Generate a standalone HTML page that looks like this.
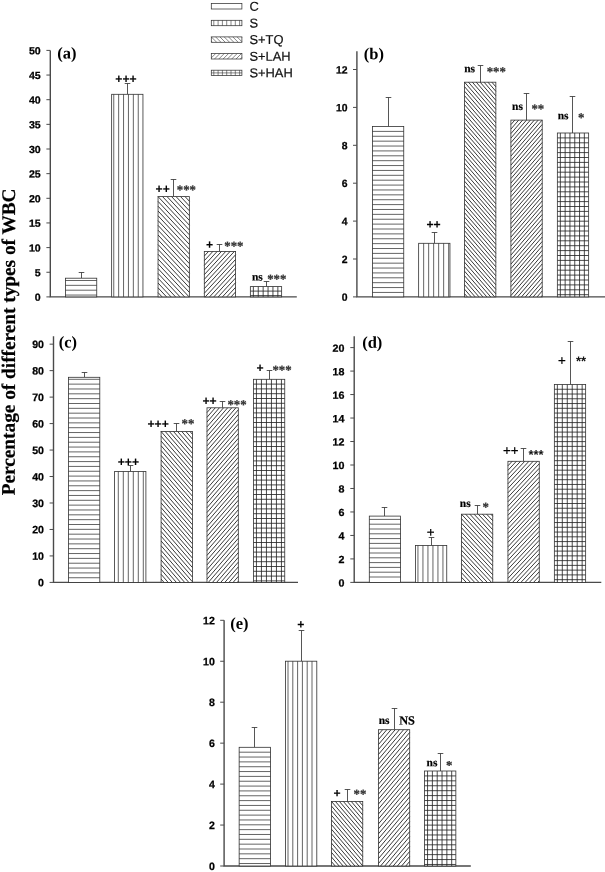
<!DOCTYPE html>
<html lang="en"><head><meta charset="utf-8"><title>Percentage of different types of WBC</title>
<style>html,body{margin:0;padding:0;background:#fff}body{width:605px;height:872px;overflow:hidden}svg{display:block;will-change:transform}text{text-rendering:geometricPrecision}.sb{font-family:"Liberation Sans",sans-serif;font-weight:bold}.sr{font-family:"Liberation Sans",sans-serif}.rb{font-family:"Liberation Serif",serif;font-weight:bold}</style>
</head><body>
<svg width="605" height="872" viewBox="0 0 605 872"><rect width="100%" height="100%" fill="#fff"/><path d="M50.3 50.4 V296.9 H296.8" fill="none" stroke="#4a4a4a" stroke-width="1.4"/>
<line x1="46.4" y1="296.9" x2="50.3" y2="296.9" stroke="#4a4a4a" stroke-width="1"/>
<text transform="translate(40.70 300.80) rotate(0.05) scale(1.03 1)" class="sb" font-size="10.3" text-anchor="end" fill="#000" stroke="#000" stroke-width="0.25">0</text>
<line x1="46.4" y1="272.25" x2="50.3" y2="272.25" stroke="#4a4a4a" stroke-width="1"/>
<text transform="translate(40.70 276.15) rotate(0.05) scale(1.03 1)" class="sb" font-size="10.3" text-anchor="end" fill="#000" stroke="#000" stroke-width="0.25">5</text>
<line x1="46.4" y1="247.59999999999997" x2="50.3" y2="247.59999999999997" stroke="#4a4a4a" stroke-width="1"/>
<text transform="translate(40.70 251.50) rotate(0.05) scale(1.03 1)" class="sb" font-size="10.3" text-anchor="end" fill="#000" stroke="#000" stroke-width="0.25">10</text>
<line x1="46.4" y1="222.95" x2="50.3" y2="222.95" stroke="#4a4a4a" stroke-width="1"/>
<text transform="translate(40.70 226.85) rotate(0.05) scale(1.03 1)" class="sb" font-size="10.3" text-anchor="end" fill="#000" stroke="#000" stroke-width="0.25">15</text>
<line x1="46.4" y1="198.29999999999998" x2="50.3" y2="198.29999999999998" stroke="#4a4a4a" stroke-width="1"/>
<text transform="translate(40.70 202.20) rotate(0.05) scale(1.03 1)" class="sb" font-size="10.3" text-anchor="end" fill="#000" stroke="#000" stroke-width="0.25">20</text>
<line x1="46.4" y1="173.64999999999998" x2="50.3" y2="173.64999999999998" stroke="#4a4a4a" stroke-width="1"/>
<text transform="translate(40.70 177.55) rotate(0.05) scale(1.03 1)" class="sb" font-size="10.3" text-anchor="end" fill="#000" stroke="#000" stroke-width="0.25">25</text>
<line x1="46.4" y1="149.0" x2="50.3" y2="149.0" stroke="#4a4a4a" stroke-width="1"/>
<text transform="translate(40.70 152.90) rotate(0.05) scale(1.03 1)" class="sb" font-size="10.3" text-anchor="end" fill="#000" stroke="#000" stroke-width="0.25">30</text>
<line x1="46.4" y1="124.35" x2="50.3" y2="124.35" stroke="#4a4a4a" stroke-width="1"/>
<text transform="translate(40.70 128.25) rotate(0.05) scale(1.03 1)" class="sb" font-size="10.3" text-anchor="end" fill="#000" stroke="#000" stroke-width="0.25">35</text>
<line x1="46.4" y1="99.69999999999999" x2="50.3" y2="99.69999999999999" stroke="#4a4a4a" stroke-width="1"/>
<text transform="translate(40.70 103.60) rotate(0.05) scale(1.03 1)" class="sb" font-size="10.3" text-anchor="end" fill="#000" stroke="#000" stroke-width="0.25">40</text>
<line x1="46.4" y1="75.04999999999998" x2="50.3" y2="75.04999999999998" stroke="#4a4a4a" stroke-width="1"/>
<text transform="translate(40.70 78.95) rotate(0.05) scale(1.03 1)" class="sb" font-size="10.3" text-anchor="end" fill="#000" stroke="#000" stroke-width="0.25">45</text>
<line x1="46.4" y1="50.39999999999998" x2="50.3" y2="50.39999999999998" stroke="#4a4a4a" stroke-width="1"/>
<text transform="translate(40.70 54.30) rotate(0.05) scale(1.03 1)" class="sb" font-size="10.3" text-anchor="end" fill="#000" stroke="#000" stroke-width="0.25">50</text>
<text transform="translate(57.30 58.50) rotate(0.05)" class="rb" font-size="16.5" text-anchor="start" fill="#000" >(a)</text>
<path d="M81.50 278.2 V272.5 M78.70 272.5 H84.30" fill="none" stroke="#383838" stroke-width="0.85"/>
<rect x="65.45" y="278.2" width="31.30" height="18.70" fill="#fff"/>
<path d="M65.45 280.50H96.75M65.45 285.35H96.75M65.45 290.20H96.75M65.45 295.05H96.75" fill="none" stroke="#222" stroke-width="0.7"/>
<rect x="65.45" y="278.2" width="31.30" height="18.70" fill="none" stroke="#303030" stroke-width="0.8"/>
<path d="M127.50 94.3 V83.5 M124.70 83.5 H130.30" fill="none" stroke="#383838" stroke-width="0.85"/>
<rect x="111.65" y="94.3" width="31.30" height="202.60" fill="#fff"/>
<path d="M113.75 94.30V296.90M118.65 94.30V296.90M123.55 94.30V296.90M128.45 94.30V296.90M133.35 94.30V296.90M138.25 94.30V296.90" fill="none" stroke="#222" stroke-width="0.7"/>
<rect x="111.65" y="94.3" width="31.30" height="202.60" fill="none" stroke="#303030" stroke-width="0.8"/>
<path d="M173.50 196.6 V179.5 M170.70 179.5 H176.30" fill="none" stroke="#383838" stroke-width="0.85"/>
<rect x="158.05" y="196.6" width="31.30" height="100.30" fill="#fff"/>
<path d="M158.05 292.60L162.08 296.90M158.05 287.80L166.58 296.90M158.05 283.00L171.08 296.90M158.05 278.20L175.58 296.90M158.05 273.40L180.08 296.90M158.05 268.60L184.58 296.90M158.05 263.80L189.08 296.90M158.05 259.00L189.35 292.39M158.05 254.20L189.35 287.59M158.05 249.40L189.35 282.79M158.05 244.60L189.35 277.99M158.05 239.80L189.35 273.19M158.05 235.00L189.35 268.39M158.05 230.20L189.35 263.59M158.05 225.40L189.35 258.79M158.05 220.60L189.35 253.99M158.05 215.80L189.35 249.19M158.05 211.00L189.35 244.39M158.05 206.20L189.35 239.59M158.05 201.40L189.35 234.79M158.05 196.60L189.35 229.99M162.55 196.60L189.35 225.19M167.05 196.60L189.35 220.39M171.55 196.60L189.35 215.59M176.05 196.60L189.35 210.79M180.55 196.60L189.35 205.99M185.05 196.60L189.35 201.19" fill="none" stroke="#222" stroke-width="0.9"/>
<rect x="158.05" y="196.6" width="31.30" height="100.30" fill="none" stroke="#303030" stroke-width="0.8"/>
<path d="M219.50 251.4 V244.5 M216.70 244.5 H222.30" fill="none" stroke="#383838" stroke-width="0.85"/>
<rect x="204.3" y="251.4" width="31.30" height="45.50" fill="#fff"/>
<path d="M208.60 251.40L204.30 256.05M212.90 251.40L204.30 260.70M217.20 251.40L204.30 265.35M221.50 251.40L204.30 270.00M225.80 251.40L204.30 274.65M230.10 251.40L204.30 279.30M234.40 251.40L204.30 283.95M235.60 254.75L204.30 288.60M235.60 259.40L204.30 293.25M235.60 264.05L205.22 296.90M235.60 268.70L209.52 296.90M235.60 273.35L213.82 296.90M235.60 278.00L218.12 296.90M235.60 282.65L222.42 296.90M235.60 287.30L226.72 296.90M235.60 291.95L231.02 296.90" fill="none" stroke="#222" stroke-width="0.9"/>
<rect x="204.3" y="251.4" width="31.30" height="45.50" fill="none" stroke="#303030" stroke-width="0.8"/>
<path d="M266.50 286.6 V281.5 M263.70 281.5 H269.30" fill="none" stroke="#383838" stroke-width="0.85"/>
<rect x="250.35" y="286.6" width="31.30" height="10.30" fill="#fff"/>
<path d="M250.35 291.10H281.65M250.35 295.60H281.65M253.35 286.60V296.90M258.25 286.60V296.90M263.15 286.60V296.90M268.05 286.60V296.90M272.95 286.60V296.90M277.85 286.60V296.90" fill="none" stroke="#222" stroke-width="0.82"/>
<rect x="250.35" y="286.6" width="31.30" height="10.30" fill="none" stroke="#303030" stroke-width="0.8"/>
<text transform="translate(126.00 83.12) rotate(0.05)" class="sb" font-size="12.2" text-anchor="middle" fill="#000" stroke="#000" stroke-width="0.08">+++</text>
<text transform="translate(162.70 193.12) rotate(0.05)" class="sb" font-size="12.2" text-anchor="middle" fill="#000" stroke="#000" stroke-width="0.08">++</text>
<text transform="translate(176.80 193.93) rotate(0.05)" class="rb" font-size="12.8" text-anchor="start" fill="#333" stroke="#333" stroke-width="0.25">***</text>
<text transform="translate(209.50 248.72) rotate(0.05)" class="sb" font-size="12.2" text-anchor="middle" fill="#000" stroke="#000" stroke-width="0.08">+</text>
<text transform="translate(224.30 250.23) rotate(0.05)" class="rb" font-size="12.8" text-anchor="start" fill="#333" stroke="#333" stroke-width="0.25">***</text>
<text transform="translate(251.90 280.60) rotate(0.05)" class="rb" font-size="11.5" text-anchor="start" fill="#000" stroke="#000" stroke-width="0.2">ns</text>
<text transform="translate(267.20 283.33) rotate(0.05)" class="rb" font-size="12.8" text-anchor="start" fill="#333" stroke="#333" stroke-width="0.25">***</text>
<path d="M356.9 51.2 V296.9 H605" fill="none" stroke="#4a4a4a" stroke-width="1.4"/>
<line x1="353.0" y1="296.9" x2="356.9" y2="296.9" stroke="#4a4a4a" stroke-width="1"/>
<text transform="translate(347.60 300.80) rotate(0.05) scale(0.99 1)" class="sb" font-size="10.5" text-anchor="end" fill="#000" stroke="#000" stroke-width="0.25">0</text>
<line x1="353.0" y1="259.0" x2="356.9" y2="259.0" stroke="#4a4a4a" stroke-width="1"/>
<text transform="translate(347.60 262.90) rotate(0.05) scale(0.99 1)" class="sb" font-size="10.5" text-anchor="end" fill="#000" stroke="#000" stroke-width="0.25">2</text>
<line x1="353.0" y1="221.09999999999997" x2="356.9" y2="221.09999999999997" stroke="#4a4a4a" stroke-width="1"/>
<text transform="translate(347.60 225.00) rotate(0.05) scale(0.99 1)" class="sb" font-size="10.5" text-anchor="end" fill="#000" stroke="#000" stroke-width="0.25">4</text>
<line x1="353.0" y1="183.2" x2="356.9" y2="183.2" stroke="#4a4a4a" stroke-width="1"/>
<text transform="translate(347.60 187.10) rotate(0.05) scale(0.99 1)" class="sb" font-size="10.5" text-anchor="end" fill="#000" stroke="#000" stroke-width="0.25">6</text>
<line x1="353.0" y1="145.29999999999998" x2="356.9" y2="145.29999999999998" stroke="#4a4a4a" stroke-width="1"/>
<text transform="translate(347.60 149.20) rotate(0.05) scale(0.99 1)" class="sb" font-size="10.5" text-anchor="end" fill="#000" stroke="#000" stroke-width="0.25">8</text>
<line x1="353.0" y1="107.39999999999998" x2="356.9" y2="107.39999999999998" stroke="#4a4a4a" stroke-width="1"/>
<text transform="translate(347.60 111.30) rotate(0.05) scale(0.99 1)" class="sb" font-size="10.5" text-anchor="end" fill="#000" stroke="#000" stroke-width="0.25">10</text>
<line x1="353.0" y1="69.5" x2="356.9" y2="69.5" stroke="#4a4a4a" stroke-width="1"/>
<text transform="translate(347.60 73.40) rotate(0.05) scale(0.99 1)" class="sb" font-size="10.5" text-anchor="end" fill="#000" stroke="#000" stroke-width="0.25">12</text>
<text transform="translate(363.80 59.30) rotate(0.05)" class="rb" font-size="16.5" text-anchor="start" fill="#000" >(b)</text>
<path d="M388.50 126.5 V97.5 M385.70 97.5 H391.30" fill="none" stroke="#383838" stroke-width="0.85"/>
<rect x="372.45" y="126.5" width="31.30" height="170.40" fill="#fff"/>
<path d="M372.45 131.40H403.75M372.45 136.28H403.75M372.45 141.16H403.75M372.45 146.04H403.75M372.45 150.92H403.75M372.45 155.80H403.75M372.45 160.68H403.75M372.45 165.56H403.75M372.45 170.44H403.75M372.45 175.32H403.75M372.45 180.20H403.75M372.45 185.08H403.75M372.45 189.96H403.75M372.45 194.84H403.75M372.45 199.72H403.75M372.45 204.60H403.75M372.45 209.48H403.75M372.45 214.36H403.75M372.45 219.24H403.75M372.45 224.12H403.75M372.45 229.00H403.75M372.45 233.88H403.75M372.45 238.76H403.75M372.45 243.64H403.75M372.45 248.52H403.75M372.45 253.40H403.75M372.45 258.28H403.75M372.45 263.16H403.75M372.45 268.04H403.75M372.45 272.92H403.75M372.45 277.80H403.75M372.45 282.68H403.75M372.45 287.56H403.75M372.45 292.44H403.75" fill="none" stroke="#222" stroke-width="0.7"/>
<rect x="372.45" y="126.5" width="31.30" height="170.40" fill="none" stroke="#303030" stroke-width="0.8"/>
<path d="M434.50 243.3 V232.5 M431.70 232.5 H437.30" fill="none" stroke="#383838" stroke-width="0.85"/>
<rect x="418.65" y="243.3" width="31.30" height="53.60" fill="#fff"/>
<path d="M423.65 243.30V296.90M428.65 243.30V296.90M433.65 243.30V296.90M438.65 243.30V296.90M443.65 243.30V296.90M448.65 243.30V296.90" fill="none" stroke="#222" stroke-width="0.7"/>
<rect x="418.65" y="243.3" width="31.30" height="53.60" fill="none" stroke="#303030" stroke-width="0.8"/>
<path d="M480.50 82.2 V65.5 M477.70 65.5 H483.30" fill="none" stroke="#383838" stroke-width="0.85"/>
<rect x="464.55" y="82.2" width="31.30" height="214.70" fill="#fff"/>
<path d="M464.55 293.70L467.32 296.90M464.55 289.20L471.22 296.90M464.55 284.70L475.12 296.90M464.55 280.20L479.02 296.90M464.55 275.70L482.92 296.90M464.55 271.20L486.82 296.90M464.55 266.70L490.72 296.90M464.55 262.20L494.62 296.90M464.55 257.70L495.85 293.82M464.55 253.20L495.85 289.32M464.55 248.70L495.85 284.82M464.55 244.20L495.85 280.32M464.55 239.70L495.85 275.82M464.55 235.20L495.85 271.32M464.55 230.70L495.85 266.82M464.55 226.20L495.85 262.32M464.55 221.70L495.85 257.82M464.55 217.20L495.85 253.32M464.55 212.70L495.85 248.82M464.55 208.20L495.85 244.32M464.55 203.70L495.85 239.82M464.55 199.20L495.85 235.32M464.55 194.70L495.85 230.82M464.55 190.20L495.85 226.32M464.55 185.70L495.85 221.82M464.55 181.20L495.85 217.32M464.55 176.70L495.85 212.82M464.55 172.20L495.85 208.32M464.55 167.70L495.85 203.82M464.55 163.20L495.85 199.32M464.55 158.70L495.85 194.82M464.55 154.20L495.85 190.32M464.55 149.70L495.85 185.82M464.55 145.20L495.85 181.32M464.55 140.70L495.85 176.82M464.55 136.20L495.85 172.32M464.55 131.70L495.85 167.82M464.55 127.20L495.85 163.32M464.55 122.70L495.85 158.82M464.55 118.20L495.85 154.32M464.55 113.70L495.85 149.82M464.55 109.20L495.85 145.32M464.55 104.70L495.85 140.82M464.55 100.20L495.85 136.32M464.55 95.70L495.85 131.82M464.55 91.20L495.85 127.32M464.55 86.70L495.85 122.82M464.55 82.20L495.85 118.32M468.45 82.20L495.85 113.82M472.35 82.20L495.85 109.32M476.25 82.20L495.85 104.82M480.15 82.20L495.85 100.32M484.05 82.20L495.85 95.82M487.95 82.20L495.85 91.32M491.85 82.20L495.85 86.82" fill="none" stroke="#222" stroke-width="0.9"/>
<rect x="464.55" y="82.2" width="31.30" height="214.70" fill="none" stroke="#303030" stroke-width="0.8"/>
<path d="M526.50 120.1 V93.5 M523.70 93.5 H529.30" fill="none" stroke="#383838" stroke-width="0.85"/>
<rect x="510.9" y="120.1" width="31.30" height="176.80" fill="#fff"/>
<path d="M514.80 120.10L510.90 124.60M518.70 120.10L510.90 129.10M522.60 120.10L510.90 133.60M526.50 120.10L510.90 138.10M530.40 120.10L510.90 142.60M534.30 120.10L510.90 147.10M538.20 120.10L510.90 151.60M542.10 120.10L510.90 156.10M542.20 124.48L510.90 160.60M542.20 128.98L510.90 165.10M542.20 133.48L510.90 169.60M542.20 137.98L510.90 174.10M542.20 142.48L510.90 178.60M542.20 146.98L510.90 183.10M542.20 151.48L510.90 187.60M542.20 155.98L510.90 192.10M542.20 160.48L510.90 196.60M542.20 164.98L510.90 201.10M542.20 169.48L510.90 205.60M542.20 173.98L510.90 210.10M542.20 178.48L510.90 214.60M542.20 182.98L510.90 219.10M542.20 187.48L510.90 223.60M542.20 191.98L510.90 228.10M542.20 196.48L510.90 232.60M542.20 200.98L510.90 237.10M542.20 205.48L510.90 241.60M542.20 209.98L510.90 246.10M542.20 214.48L510.90 250.60M542.20 218.98L510.90 255.10M542.20 223.48L510.90 259.60M542.20 227.98L510.90 264.10M542.20 232.48L510.90 268.60M542.20 236.98L510.90 273.10M542.20 241.48L510.90 277.60M542.20 245.98L510.90 282.10M542.20 250.48L510.90 286.60M542.20 254.98L510.90 291.10M542.20 259.48L510.90 295.60M542.20 263.98L513.67 296.90M542.20 268.48L517.57 296.90M542.20 272.98L521.47 296.90M542.20 277.48L525.37 296.90M542.20 281.98L529.27 296.90M542.20 286.48L533.17 296.90M542.20 290.98L537.07 296.90M542.20 295.48L540.97 296.90" fill="none" stroke="#222" stroke-width="0.9"/>
<rect x="510.9" y="120.1" width="31.30" height="176.80" fill="none" stroke="#303030" stroke-width="0.8"/>
<path d="M572.50 133.0 V96.5 M569.70 96.5 H575.30" fill="none" stroke="#383838" stroke-width="0.85"/>
<rect x="557.35" y="133.0" width="31.30" height="163.90" fill="#fff"/>
<path d="M557.35 137.90H588.65M557.35 142.80H588.65M557.35 147.70H588.65M557.35 152.60H588.65M557.35 157.50H588.65M557.35 162.40H588.65M557.35 167.30H588.65M557.35 172.20H588.65M557.35 177.10H588.65M557.35 182.00H588.65M557.35 186.90H588.65M557.35 191.80H588.65M557.35 196.70H588.65M557.35 201.60H588.65M557.35 206.50H588.65M557.35 211.40H588.65M557.35 216.30H588.65M557.35 221.20H588.65M557.35 226.10H588.65M557.35 231.00H588.65M557.35 235.90H588.65M557.35 240.80H588.65M557.35 245.70H588.65M557.35 250.60H588.65M557.35 255.50H588.65M557.35 260.40H588.65M557.35 265.30H588.65M557.35 270.20H588.65M557.35 275.10H588.65M557.35 280.00H588.65M557.35 284.90H588.65M557.35 289.80H588.65M557.35 294.70H588.65M560.35 133.00V296.90M565.15 133.00V296.90M569.95 133.00V296.90M574.75 133.00V296.90M579.55 133.00V296.90M584.35 133.00V296.90" fill="none" stroke="#222" stroke-width="0.82"/>
<rect x="557.35" y="133.0" width="31.30" height="163.90" fill="none" stroke="#303030" stroke-width="0.8"/>
<text transform="translate(433.60 228.62) rotate(0.05)" class="sb" font-size="12.2" text-anchor="middle" fill="#000" stroke="#000" stroke-width="0.08">++</text>
<text transform="translate(464.20 72.20) rotate(0.05)" class="rb" font-size="11.5" text-anchor="start" fill="#000" stroke="#000" stroke-width="0.2">ns</text>
<text transform="translate(486.70 75.73) rotate(0.05)" class="rb" font-size="12.8" text-anchor="start" fill="#333" stroke="#333" stroke-width="0.25">***</text>
<text transform="translate(512.00 109.90) rotate(0.05)" class="rb" font-size="11.5" text-anchor="start" fill="#000" stroke="#000" stroke-width="0.2">ns</text>
<text transform="translate(531.40 113.03) rotate(0.05)" class="rb" font-size="12.8" text-anchor="start" fill="#333" stroke="#333" stroke-width="0.25">**</text>
<text transform="translate(557.70 119.30) rotate(0.05)" class="rb" font-size="11.5" text-anchor="start" fill="#000" stroke="#000" stroke-width="0.2">ns</text>
<text transform="translate(578.00 121.63) rotate(0.05)" class="rb" font-size="12.8" text-anchor="start" fill="#333" stroke="#333" stroke-width="0.25">*</text>
<path d="M53.5 336.2 V582.4 H298" fill="none" stroke="#4a4a4a" stroke-width="1.4"/>
<line x1="49.6" y1="582.4" x2="53.5" y2="582.4" stroke="#4a4a4a" stroke-width="1"/>
<text transform="translate(44.00 586.30) rotate(0.05) scale(0.99 1)" class="sb" font-size="10.7" text-anchor="end" fill="#000" stroke="#000" stroke-width="0.25">0</text>
<line x1="49.6" y1="555.93" x2="53.5" y2="555.93" stroke="#4a4a4a" stroke-width="1"/>
<text transform="translate(44.00 559.83) rotate(0.05) scale(0.99 1)" class="sb" font-size="10.7" text-anchor="end" fill="#000" stroke="#000" stroke-width="0.25">10</text>
<line x1="49.6" y1="529.46" x2="53.5" y2="529.46" stroke="#4a4a4a" stroke-width="1"/>
<text transform="translate(44.00 533.36) rotate(0.05) scale(0.99 1)" class="sb" font-size="10.7" text-anchor="end" fill="#000" stroke="#000" stroke-width="0.25">20</text>
<line x1="49.6" y1="502.99" x2="53.5" y2="502.99" stroke="#4a4a4a" stroke-width="1"/>
<text transform="translate(44.00 506.89) rotate(0.05) scale(0.99 1)" class="sb" font-size="10.7" text-anchor="end" fill="#000" stroke="#000" stroke-width="0.25">30</text>
<line x1="49.6" y1="476.52" x2="53.5" y2="476.52" stroke="#4a4a4a" stroke-width="1"/>
<text transform="translate(44.00 480.42) rotate(0.05) scale(0.99 1)" class="sb" font-size="10.7" text-anchor="end" fill="#000" stroke="#000" stroke-width="0.25">40</text>
<line x1="49.6" y1="450.04999999999995" x2="53.5" y2="450.04999999999995" stroke="#4a4a4a" stroke-width="1"/>
<text transform="translate(44.00 453.95) rotate(0.05) scale(0.99 1)" class="sb" font-size="10.7" text-anchor="end" fill="#000" stroke="#000" stroke-width="0.25">50</text>
<line x1="49.6" y1="423.58" x2="53.5" y2="423.58" stroke="#4a4a4a" stroke-width="1"/>
<text transform="translate(44.00 427.48) rotate(0.05) scale(0.99 1)" class="sb" font-size="10.7" text-anchor="end" fill="#000" stroke="#000" stroke-width="0.25">60</text>
<line x1="49.6" y1="397.11" x2="53.5" y2="397.11" stroke="#4a4a4a" stroke-width="1"/>
<text transform="translate(44.00 401.01) rotate(0.05) scale(0.99 1)" class="sb" font-size="10.7" text-anchor="end" fill="#000" stroke="#000" stroke-width="0.25">70</text>
<line x1="49.6" y1="370.64" x2="53.5" y2="370.64" stroke="#4a4a4a" stroke-width="1"/>
<text transform="translate(44.00 374.54) rotate(0.05) scale(0.99 1)" class="sb" font-size="10.7" text-anchor="end" fill="#000" stroke="#000" stroke-width="0.25">80</text>
<line x1="49.6" y1="344.16999999999996" x2="53.5" y2="344.16999999999996" stroke="#4a4a4a" stroke-width="1"/>
<text transform="translate(44.00 348.07) rotate(0.05) scale(0.99 1)" class="sb" font-size="10.7" text-anchor="end" fill="#000" stroke="#000" stroke-width="0.25">90</text>
<text transform="translate(58.80 347.60) rotate(0.05)" class="rb" font-size="16.5" text-anchor="start" fill="#000" >(c)</text>
<path d="M84.50 377.3 V372.5 M81.70 372.5 H87.30" fill="none" stroke="#383838" stroke-width="0.85"/>
<rect x="68.5" y="377.3" width="31.30" height="205.10" fill="#fff"/>
<path d="M68.50 379.30H99.80M68.50 384.14H99.80M68.50 388.98H99.80M68.50 393.82H99.80M68.50 398.66H99.80M68.50 403.50H99.80M68.50 408.34H99.80M68.50 413.18H99.80M68.50 418.02H99.80M68.50 422.86H99.80M68.50 427.70H99.80M68.50 432.54H99.80M68.50 437.38H99.80M68.50 442.22H99.80M68.50 447.06H99.80M68.50 451.90H99.80M68.50 456.74H99.80M68.50 461.58H99.80M68.50 466.42H99.80M68.50 471.26H99.80M68.50 476.10H99.80M68.50 480.94H99.80M68.50 485.78H99.80M68.50 490.62H99.80M68.50 495.46H99.80M68.50 500.30H99.80M68.50 505.14H99.80M68.50 509.98H99.80M68.50 514.82H99.80M68.50 519.66H99.80M68.50 524.50H99.80M68.50 529.34H99.80M68.50 534.18H99.80M68.50 539.02H99.80M68.50 543.86H99.80M68.50 548.70H99.80M68.50 553.54H99.80M68.50 558.38H99.80M68.50 563.22H99.80M68.50 568.06H99.80M68.50 572.90H99.80M68.50 577.74H99.80" fill="none" stroke="#222" stroke-width="0.7"/>
<rect x="68.5" y="377.3" width="31.30" height="205.10" fill="none" stroke="#303030" stroke-width="0.8"/>
<path d="M130.50 471.5 V465.5 M127.70 465.5 H133.30" fill="none" stroke="#383838" stroke-width="0.85"/>
<rect x="114.6" y="471.5" width="31.30" height="110.90" fill="#fff"/>
<path d="M118.30 471.50V582.40M123.30 471.50V582.40M128.30 471.50V582.40M133.30 471.50V582.40M138.30 471.50V582.40M143.30 471.50V582.40" fill="none" stroke="#222" stroke-width="0.7"/>
<rect x="114.6" y="471.5" width="31.30" height="110.90" fill="none" stroke="#303030" stroke-width="0.8"/>
<path d="M176.50 431.5 V423.5 M173.70 423.5 H179.30" fill="none" stroke="#383838" stroke-width="0.85"/>
<rect x="161.1" y="431.5" width="31.30" height="150.90" fill="#fff"/>
<path d="M161.10 579.06L164.00 582.40M161.10 574.30L168.13 582.40M161.10 569.54L172.26 582.40M161.10 564.78L176.39 582.40M161.10 560.02L180.52 582.40M161.10 555.26L184.65 582.40M161.10 550.50L188.78 582.40M161.10 545.74L192.40 581.81M161.10 540.98L192.40 577.05M161.10 536.22L192.40 572.29M161.10 531.46L192.40 567.53M161.10 526.70L192.40 562.77M161.10 521.94L192.40 558.01M161.10 517.18L192.40 553.25M161.10 512.42L192.40 548.49M161.10 507.66L192.40 543.73M161.10 502.90L192.40 538.97M161.10 498.14L192.40 534.21M161.10 493.38L192.40 529.45M161.10 488.62L192.40 524.69M161.10 483.86L192.40 519.93M161.10 479.10L192.40 515.17M161.10 474.34L192.40 510.41M161.10 469.58L192.40 505.65M161.10 464.82L192.40 500.89M161.10 460.06L192.40 496.13M161.10 455.30L192.40 491.37M161.10 450.54L192.40 486.61M161.10 445.78L192.40 481.85M161.10 441.02L192.40 477.09M161.10 436.26L192.40 472.33M161.10 431.50L192.40 467.57M165.23 431.50L192.40 462.81M169.36 431.50L192.40 458.05M173.49 431.50L192.40 453.29M177.62 431.50L192.40 448.53M181.75 431.50L192.40 443.77M185.88 431.50L192.40 439.01M190.01 431.50L192.40 434.25" fill="none" stroke="#222" stroke-width="0.9"/>
<rect x="161.1" y="431.5" width="31.30" height="150.90" fill="none" stroke="#303030" stroke-width="0.8"/>
<path d="M222.50 407.8 V401.5 M219.70 401.5 H225.30" fill="none" stroke="#383838" stroke-width="0.85"/>
<rect x="207.0" y="407.8" width="31.30" height="174.60" fill="#fff"/>
<path d="M211.13 407.80L207.00 412.56M215.26 407.80L207.00 417.32M219.39 407.80L207.00 422.08M223.52 407.80L207.00 426.84M227.65 407.80L207.00 431.60M231.78 407.80L207.00 436.36M235.91 407.80L207.00 441.12M238.30 409.81L207.00 445.88M238.30 414.57L207.00 450.64M238.30 419.33L207.00 455.40M238.30 424.09L207.00 460.16M238.30 428.85L207.00 464.92M238.30 433.61L207.00 469.68M238.30 438.37L207.00 474.44M238.30 443.13L207.00 479.20M238.30 447.89L207.00 483.96M238.30 452.65L207.00 488.72M238.30 457.41L207.00 493.48M238.30 462.17L207.00 498.24M238.30 466.93L207.00 503.00M238.30 471.69L207.00 507.76M238.30 476.45L207.00 512.52M238.30 481.21L207.00 517.28M238.30 485.97L207.00 522.04M238.30 490.73L207.00 526.80M238.30 495.49L207.00 531.56M238.30 500.25L207.00 536.32M238.30 505.01L207.00 541.08M238.30 509.77L207.00 545.84M238.30 514.53L207.00 550.60M238.30 519.29L207.00 555.36M238.30 524.05L207.00 560.12M238.30 528.81L207.00 564.88M238.30 533.57L207.00 569.64M238.30 538.33L207.00 574.40M238.30 543.09L207.00 579.16M238.30 547.85L208.32 582.40M238.30 552.61L212.45 582.40M238.30 557.37L216.58 582.40M238.30 562.13L220.71 582.40M238.30 566.89L224.84 582.40M238.30 571.65L228.97 582.40M238.30 576.41L233.10 582.40M238.30 581.17L237.23 582.40" fill="none" stroke="#222" stroke-width="0.9"/>
<rect x="207.0" y="407.8" width="31.30" height="174.60" fill="none" stroke="#303030" stroke-width="0.8"/>
<path d="M269.50 379.3 V370.5 M266.70 370.5 H272.30" fill="none" stroke="#383838" stroke-width="0.85"/>
<rect x="253.45" y="379.3" width="31.30" height="203.10" fill="#fff"/>
<path d="M253.45 384.10H284.75M253.45 388.90H284.75M253.45 393.70H284.75M253.45 398.50H284.75M253.45 403.30H284.75M253.45 408.10H284.75M253.45 412.90H284.75M253.45 417.70H284.75M253.45 422.50H284.75M253.45 427.30H284.75M253.45 432.10H284.75M253.45 436.90H284.75M253.45 441.70H284.75M253.45 446.50H284.75M253.45 451.30H284.75M253.45 456.10H284.75M253.45 460.90H284.75M253.45 465.70H284.75M253.45 470.50H284.75M253.45 475.30H284.75M253.45 480.10H284.75M253.45 484.90H284.75M253.45 489.70H284.75M253.45 494.50H284.75M253.45 499.30H284.75M253.45 504.10H284.75M253.45 508.90H284.75M253.45 513.70H284.75M253.45 518.50H284.75M253.45 523.30H284.75M253.45 528.10H284.75M253.45 532.90H284.75M253.45 537.70H284.75M253.45 542.50H284.75M253.45 547.30H284.75M253.45 552.10H284.75M253.45 556.90H284.75M253.45 561.70H284.75M253.45 566.50H284.75M253.45 571.30H284.75M253.45 576.10H284.75M253.45 580.90H284.75M256.45 379.30V582.40M261.45 379.30V582.40M266.45 379.30V582.40M271.45 379.30V582.40M276.45 379.30V582.40M281.45 379.30V582.40" fill="none" stroke="#222" stroke-width="0.82"/>
<rect x="253.45" y="379.3" width="31.30" height="203.10" fill="none" stroke="#303030" stroke-width="0.8"/>
<text transform="translate(128.40 466.02) rotate(0.05)" class="sb" font-size="12.2" text-anchor="middle" fill="#000" stroke="#000" stroke-width="0.08">+++</text>
<text transform="translate(158.10 428.02) rotate(0.05)" class="sb" font-size="12.2" text-anchor="middle" fill="#000" stroke="#000" stroke-width="0.08">+++</text>
<text transform="translate(181.60 427.73) rotate(0.05)" class="rb" font-size="12.8" text-anchor="start" fill="#333" stroke="#333" stroke-width="0.25">**</text>
<text transform="translate(209.60 404.92) rotate(0.05)" class="sb" font-size="12.2" text-anchor="middle" fill="#000" stroke="#000" stroke-width="0.08">++</text>
<text transform="translate(227.40 408.83) rotate(0.05)" class="rb" font-size="12.8" text-anchor="start" fill="#333" stroke="#333" stroke-width="0.25">***</text>
<text transform="translate(260.00 372.02) rotate(0.05)" class="sb" font-size="12.2" text-anchor="middle" fill="#000" stroke="#000" stroke-width="0.08">+</text>
<text transform="translate(272.40 374.33) rotate(0.05)" class="rb" font-size="12.8" text-anchor="start" fill="#333" stroke="#333" stroke-width="0.25">***</text>
<path d="M354.2 336.2 V582.4 H601.3" fill="none" stroke="#4a4a4a" stroke-width="1.4"/>
<line x1="350.3" y1="582.4" x2="354.2" y2="582.4" stroke="#4a4a4a" stroke-width="1"/>
<text transform="translate(344.50 586.50) rotate(0.05) scale(1.03 1)" class="sb" font-size="10.4" text-anchor="end" fill="#000" stroke="#000" stroke-width="0.25">0</text>
<line x1="350.3" y1="558.92" x2="354.2" y2="558.92" stroke="#4a4a4a" stroke-width="1"/>
<text transform="translate(344.50 563.02) rotate(0.05) scale(1.03 1)" class="sb" font-size="10.4" text-anchor="end" fill="#000" stroke="#000" stroke-width="0.25">2</text>
<line x1="350.3" y1="535.4399999999999" x2="354.2" y2="535.4399999999999" stroke="#4a4a4a" stroke-width="1"/>
<text transform="translate(344.50 539.54) rotate(0.05) scale(1.03 1)" class="sb" font-size="10.4" text-anchor="end" fill="#000" stroke="#000" stroke-width="0.25">4</text>
<line x1="350.3" y1="511.96" x2="354.2" y2="511.96" stroke="#4a4a4a" stroke-width="1"/>
<text transform="translate(344.50 516.06) rotate(0.05) scale(1.03 1)" class="sb" font-size="10.4" text-anchor="end" fill="#000" stroke="#000" stroke-width="0.25">6</text>
<line x1="350.3" y1="488.47999999999996" x2="354.2" y2="488.47999999999996" stroke="#4a4a4a" stroke-width="1"/>
<text transform="translate(344.50 492.58) rotate(0.05) scale(1.03 1)" class="sb" font-size="10.4" text-anchor="end" fill="#000" stroke="#000" stroke-width="0.25">8</text>
<line x1="350.3" y1="465.0" x2="354.2" y2="465.0" stroke="#4a4a4a" stroke-width="1"/>
<text transform="translate(344.50 469.10) rotate(0.05) scale(1.03 1)" class="sb" font-size="10.4" text-anchor="end" fill="#000" stroke="#000" stroke-width="0.25">10</text>
<line x1="350.3" y1="441.52" x2="354.2" y2="441.52" stroke="#4a4a4a" stroke-width="1"/>
<text transform="translate(344.50 445.62) rotate(0.05) scale(1.03 1)" class="sb" font-size="10.4" text-anchor="end" fill="#000" stroke="#000" stroke-width="0.25">12</text>
<line x1="350.3" y1="418.03999999999996" x2="354.2" y2="418.03999999999996" stroke="#4a4a4a" stroke-width="1"/>
<text transform="translate(344.50 422.14) rotate(0.05) scale(1.03 1)" class="sb" font-size="10.4" text-anchor="end" fill="#000" stroke="#000" stroke-width="0.25">14</text>
<line x1="350.3" y1="394.55999999999995" x2="354.2" y2="394.55999999999995" stroke="#4a4a4a" stroke-width="1"/>
<text transform="translate(344.50 398.66) rotate(0.05) scale(1.03 1)" class="sb" font-size="10.4" text-anchor="end" fill="#000" stroke="#000" stroke-width="0.25">16</text>
<line x1="350.3" y1="371.08" x2="354.2" y2="371.08" stroke="#4a4a4a" stroke-width="1"/>
<text transform="translate(344.50 375.18) rotate(0.05) scale(1.03 1)" class="sb" font-size="10.4" text-anchor="end" fill="#000" stroke="#000" stroke-width="0.25">18</text>
<line x1="350.3" y1="347.59999999999997" x2="354.2" y2="347.59999999999997" stroke="#4a4a4a" stroke-width="1"/>
<text transform="translate(344.50 351.70) rotate(0.05) scale(1.03 1)" class="sb" font-size="10.4" text-anchor="end" fill="#000" stroke="#000" stroke-width="0.25">20</text>
<text transform="translate(362.20 347.70) rotate(0.05)" class="rb" font-size="16.5" text-anchor="start" fill="#000" >(d)</text>
<path d="M384.50 516.1 V507.5 M381.70 507.5 H387.30" fill="none" stroke="#383838" stroke-width="0.85"/>
<rect x="369.3" y="516.1" width="31.30" height="66.30" fill="#fff"/>
<path d="M369.30 519.40H400.60M369.30 524.20H400.60M369.30 529.00H400.60M369.30 533.80H400.60M369.30 538.60H400.60M369.30 543.40H400.60M369.30 548.20H400.60M369.30 553.00H400.60M369.30 557.80H400.60M369.30 562.60H400.60M369.30 567.40H400.60M369.30 572.20H400.60M369.30 577.00H400.60" fill="none" stroke="#222" stroke-width="0.7"/>
<rect x="369.3" y="516.1" width="31.30" height="66.30" fill="none" stroke="#303030" stroke-width="0.8"/>
<path d="M431.50 545.4 V537.5 M428.70 537.5 H434.30" fill="none" stroke="#383838" stroke-width="0.85"/>
<rect x="415.45" y="545.4" width="31.30" height="37.00" fill="#fff"/>
<path d="M417.95 545.40V582.40M422.95 545.40V582.40M427.95 545.40V582.40M432.95 545.40V582.40M437.95 545.40V582.40M442.95 545.40V582.40" fill="none" stroke="#222" stroke-width="0.7"/>
<rect x="415.45" y="545.4" width="31.30" height="37.00" fill="none" stroke="#303030" stroke-width="0.8"/>
<path d="M477.50 514.2 V505.5 M474.70 505.5 H480.30" fill="none" stroke="#383838" stroke-width="0.85"/>
<rect x="461.45" y="514.2" width="31.30" height="68.20" fill="#fff"/>
<path d="M461.45 581.70L462.10 582.40M461.45 577.20L466.30 582.40M461.45 572.70L470.50 582.40M461.45 568.20L474.70 582.40M461.45 563.70L478.90 582.40M461.45 559.20L483.10 582.40M461.45 554.70L487.30 582.40M461.45 550.20L491.50 582.40M461.45 545.70L492.75 579.24M461.45 541.20L492.75 574.74M461.45 536.70L492.75 570.24M461.45 532.20L492.75 565.74M461.45 527.70L492.75 561.24M461.45 523.20L492.75 556.74M461.45 518.70L492.75 552.24M461.45 514.20L492.75 547.74M465.65 514.20L492.75 543.24M469.85 514.20L492.75 538.74M474.05 514.20L492.75 534.24M478.25 514.20L492.75 529.74M482.45 514.20L492.75 525.24M486.65 514.20L492.75 520.74M490.85 514.20L492.75 516.24" fill="none" stroke="#222" stroke-width="0.9"/>
<rect x="461.45" y="514.2" width="31.30" height="68.20" fill="none" stroke="#303030" stroke-width="0.8"/>
<path d="M523.50 461.3 V448.5 M520.70 448.5 H526.30" fill="none" stroke="#383838" stroke-width="0.85"/>
<rect x="507.95" y="461.3" width="31.30" height="121.10" fill="#fff"/>
<path d="M512.15 461.30L507.95 465.80M516.35 461.30L507.95 470.30M520.55 461.30L507.95 474.80M524.75 461.30L507.95 479.30M528.95 461.30L507.95 483.80M533.15 461.30L507.95 488.30M537.35 461.30L507.95 492.80M539.25 463.76L507.95 497.30M539.25 468.26L507.95 501.80M539.25 472.76L507.95 506.30M539.25 477.26L507.95 510.80M539.25 481.76L507.95 515.30M539.25 486.26L507.95 519.80M539.25 490.76L507.95 524.30M539.25 495.26L507.95 528.80M539.25 499.76L507.95 533.30M539.25 504.26L507.95 537.80M539.25 508.76L507.95 542.30M539.25 513.26L507.95 546.80M539.25 517.76L507.95 551.30M539.25 522.26L507.95 555.80M539.25 526.76L507.95 560.30M539.25 531.26L507.95 564.80M539.25 535.76L507.95 569.30M539.25 540.26L507.95 573.80M539.25 544.76L507.95 578.30M539.25 549.26L508.32 582.40M539.25 553.76L512.52 582.40M539.25 558.26L516.72 582.40M539.25 562.76L520.92 582.40M539.25 567.26L525.12 582.40M539.25 571.76L529.32 582.40M539.25 576.26L533.52 582.40M539.25 580.76L537.72 582.40" fill="none" stroke="#222" stroke-width="0.9"/>
<rect x="507.95" y="461.3" width="31.30" height="121.10" fill="none" stroke="#303030" stroke-width="0.8"/>
<path d="M570.50 384.5 V341.5 M567.70 341.5 H573.30" fill="none" stroke="#383838" stroke-width="0.85"/>
<rect x="554.35" y="384.5" width="31.30" height="197.90" fill="#fff"/>
<path d="M554.35 389.26H585.65M554.35 394.02H585.65M554.35 398.78H585.65M554.35 403.54H585.65M554.35 408.30H585.65M554.35 413.06H585.65M554.35 417.82H585.65M554.35 422.58H585.65M554.35 427.34H585.65M554.35 432.10H585.65M554.35 436.86H585.65M554.35 441.62H585.65M554.35 446.38H585.65M554.35 451.14H585.65M554.35 455.90H585.65M554.35 460.66H585.65M554.35 465.42H585.65M554.35 470.18H585.65M554.35 474.94H585.65M554.35 479.70H585.65M554.35 484.46H585.65M554.35 489.22H585.65M554.35 493.98H585.65M554.35 498.74H585.65M554.35 503.50H585.65M554.35 508.26H585.65M554.35 513.02H585.65M554.35 517.78H585.65M554.35 522.54H585.65M554.35 527.30H585.65M554.35 532.06H585.65M554.35 536.82H585.65M554.35 541.58H585.65M554.35 546.34H585.65M554.35 551.10H585.65M554.35 555.86H585.65M554.35 560.62H585.65M554.35 565.38H585.65M554.35 570.14H585.65M554.35 574.90H585.65M554.35 579.66H585.65M557.35 384.50V582.40M562.31 384.50V582.40M567.27 384.50V582.40M572.23 384.50V582.40M577.19 384.50V582.40M582.15 384.50V582.40" fill="none" stroke="#222" stroke-width="0.82"/>
<rect x="554.35" y="384.5" width="31.30" height="197.90" fill="none" stroke="#303030" stroke-width="0.8"/>
<text transform="translate(430.60 536.65) rotate(0.05)" class="sr" font-size="13.3" text-anchor="middle" fill="#000" stroke="#000" stroke-width="0.25">+</text>
<text transform="translate(459.80 506.90) rotate(0.05)" class="rb" font-size="11.5" text-anchor="start" fill="#000" stroke="#000" stroke-width="0.2">ns</text>
<text transform="translate(482.40 511.33) rotate(0.05)" class="rb" font-size="12.8" text-anchor="start" fill="#333" stroke="#333" stroke-width="0.25">*</text>
<text transform="translate(510.70 455.10) rotate(0.05)" class="sr" font-size="13.3" text-anchor="middle" fill="#000" stroke="#000" stroke-width="0.25">++</text>
<text transform="translate(528.50 458.92) rotate(0.05)" class="sb" font-size="13" text-anchor="start" fill="#111" >***</text>
<text transform="translate(561.90 365.10) rotate(0.05)" class="sr" font-size="13.3" text-anchor="middle" fill="#000" stroke="#000" stroke-width="0.25">+</text>
<text transform="translate(576.00 365.62) rotate(0.05)" class="sb" font-size="13" text-anchor="start" fill="#111" >**</text>
<path d="M224.1 620.3 V866.0 H470.8" fill="none" stroke="#4a4a4a" stroke-width="1.4"/>
<line x1="220.2" y1="866.0" x2="224.1" y2="866.0" stroke="#4a4a4a" stroke-width="1"/>
<text transform="translate(214.80 869.90) rotate(0.05) scale(0.99 1)" class="sb" font-size="10.7" text-anchor="end" fill="#000" stroke="#000" stroke-width="0.25">0</text>
<line x1="220.2" y1="825.05" x2="224.1" y2="825.05" stroke="#4a4a4a" stroke-width="1"/>
<text transform="translate(214.80 828.95) rotate(0.05) scale(0.99 1)" class="sb" font-size="10.7" text-anchor="end" fill="#000" stroke="#000" stroke-width="0.25">2</text>
<line x1="220.2" y1="784.1" x2="224.1" y2="784.1" stroke="#4a4a4a" stroke-width="1"/>
<text transform="translate(214.80 788.00) rotate(0.05) scale(0.99 1)" class="sb" font-size="10.7" text-anchor="end" fill="#000" stroke="#000" stroke-width="0.25">4</text>
<line x1="220.2" y1="743.15" x2="224.1" y2="743.15" stroke="#4a4a4a" stroke-width="1"/>
<text transform="translate(214.80 747.05) rotate(0.05) scale(0.99 1)" class="sb" font-size="10.7" text-anchor="end" fill="#000" stroke="#000" stroke-width="0.25">6</text>
<line x1="220.2" y1="702.2" x2="224.1" y2="702.2" stroke="#4a4a4a" stroke-width="1"/>
<text transform="translate(214.80 706.10) rotate(0.05) scale(0.99 1)" class="sb" font-size="10.7" text-anchor="end" fill="#000" stroke="#000" stroke-width="0.25">8</text>
<line x1="220.2" y1="661.25" x2="224.1" y2="661.25" stroke="#4a4a4a" stroke-width="1"/>
<text transform="translate(214.80 665.15) rotate(0.05) scale(0.99 1)" class="sb" font-size="10.7" text-anchor="end" fill="#000" stroke="#000" stroke-width="0.25">10</text>
<line x1="220.2" y1="620.3" x2="224.1" y2="620.3" stroke="#4a4a4a" stroke-width="1"/>
<text transform="translate(214.80 624.20) rotate(0.05) scale(0.99 1)" class="sb" font-size="10.7" text-anchor="end" fill="#000" stroke="#000" stroke-width="0.25">12</text>
<text transform="translate(230.20 628.80) rotate(0.05)" class="rb" font-size="16.5" text-anchor="start" fill="#000" >(e)</text>
<path d="M254.50 747.3 V727.5 M251.70 727.5 H257.30" fill="none" stroke="#383838" stroke-width="0.85"/>
<rect x="239.15" y="747.3" width="31.30" height="118.70" fill="#fff"/>
<path d="M239.15 752.20H270.45M239.15 757.04H270.45M239.15 761.88H270.45M239.15 766.72H270.45M239.15 771.56H270.45M239.15 776.40H270.45M239.15 781.24H270.45M239.15 786.08H270.45M239.15 790.92H270.45M239.15 795.76H270.45M239.15 800.60H270.45M239.15 805.44H270.45M239.15 810.28H270.45M239.15 815.12H270.45M239.15 819.96H270.45M239.15 824.80H270.45M239.15 829.64H270.45M239.15 834.48H270.45M239.15 839.32H270.45M239.15 844.16H270.45M239.15 849.00H270.45M239.15 853.84H270.45M239.15 858.68H270.45M239.15 863.52H270.45" fill="none" stroke="#222" stroke-width="0.7"/>
<rect x="239.15" y="747.3" width="31.30" height="118.70" fill="none" stroke="#303030" stroke-width="0.8"/>
<path d="M301.50 661.2 V630.5 M298.70 630.5 H304.30" fill="none" stroke="#383838" stroke-width="0.85"/>
<rect x="285.5" y="661.2" width="31.30" height="204.80" fill="#fff"/>
<path d="M288.00 661.20V866.00M292.80 661.20V866.00M297.60 661.20V866.00M302.40 661.20V866.00M307.20 661.20V866.00M312.00 661.20V866.00" fill="none" stroke="#222" stroke-width="0.7"/>
<rect x="285.5" y="661.2" width="31.30" height="204.80" fill="none" stroke="#303030" stroke-width="0.8"/>
<path d="M347.50 801.4 V789.5 M344.70 789.5 H350.30" fill="none" stroke="#383838" stroke-width="0.85"/>
<rect x="331.45" y="801.4" width="31.30" height="64.60" fill="#fff"/>
<path d="M331.45 861.59L335.21 866.00M331.45 856.96L339.16 866.00M331.45 852.33L343.11 866.00M331.45 847.70L347.06 866.00M331.45 843.07L351.01 866.00M331.45 838.44L354.96 866.00M331.45 833.81L358.91 866.00M331.45 829.18L362.75 865.87M331.45 824.55L362.75 861.24M331.45 819.92L362.75 856.61M331.45 815.29L362.75 851.98M331.45 810.66L362.75 847.35M331.45 806.03L362.75 842.72M331.45 801.40L362.75 838.09M335.40 801.40L362.75 833.46M339.35 801.40L362.75 828.83M343.30 801.40L362.75 824.20M347.25 801.40L362.75 819.57M351.20 801.40L362.75 814.94M355.15 801.40L362.75 810.31M359.10 801.40L362.75 805.68" fill="none" stroke="#222" stroke-width="0.9"/>
<rect x="331.45" y="801.4" width="31.30" height="64.60" fill="none" stroke="#303030" stroke-width="0.8"/>
<path d="M394.50 729.7 V708.5 M391.70 708.5 H397.30" fill="none" stroke="#383838" stroke-width="0.85"/>
<rect x="378.4" y="729.7" width="31.30" height="136.30" fill="#fff"/>
<path d="M382.60 729.70L378.40 734.66M386.80 729.70L378.40 739.62M391.00 729.70L378.40 744.58M395.20 729.70L378.40 749.54M399.40 729.70L378.40 754.50M403.60 729.70L378.40 759.46M407.80 729.70L378.40 764.42M409.70 732.42L378.40 769.38M409.70 737.38L378.40 774.34M409.70 742.34L378.40 779.30M409.70 747.30L378.40 784.26M409.70 752.26L378.40 789.22M409.70 757.22L378.40 794.18M409.70 762.18L378.40 799.14M409.70 767.14L378.40 804.10M409.70 772.10L378.40 809.06M409.70 777.06L378.40 814.02M409.70 782.02L378.40 818.98M409.70 786.98L378.40 823.94M409.70 791.94L378.40 828.90M409.70 796.90L378.40 833.86M409.70 801.86L378.40 838.82M409.70 806.82L378.40 843.78M409.70 811.78L378.40 848.74M409.70 816.74L378.40 853.70M409.70 821.70L378.40 858.66M409.70 826.66L378.40 863.62M409.70 831.62L380.58 866.00M409.70 836.58L384.78 866.00M409.70 841.54L388.98 866.00M409.70 846.50L393.18 866.00M409.70 851.46L397.38 866.00M409.70 856.42L401.58 866.00M409.70 861.38L405.78 866.00" fill="none" stroke="#222" stroke-width="0.9"/>
<rect x="378.4" y="729.7" width="31.30" height="136.30" fill="none" stroke="#303030" stroke-width="0.8"/>
<path d="M440.50 771.0 V753.5 M437.70 753.5 H443.30" fill="none" stroke="#383838" stroke-width="0.85"/>
<rect x="424.55" y="771.0" width="31.30" height="95.00" fill="#fff"/>
<path d="M424.55 775.92H455.85M424.55 780.84H455.85M424.55 785.76H455.85M424.55 790.68H455.85M424.55 795.60H455.85M424.55 800.52H455.85M424.55 805.44H455.85M424.55 810.36H455.85M424.55 815.28H455.85M424.55 820.20H455.85M424.55 825.12H455.85M424.55 830.04H455.85M424.55 834.96H455.85M424.55 839.88H455.85M424.55 844.80H455.85M424.55 849.72H455.85M424.55 854.64H455.85M424.55 859.56H455.85M424.55 864.48H455.85M427.55 771.00V866.00M432.38 771.00V866.00M437.21 771.00V866.00M442.04 771.00V866.00M446.87 771.00V866.00M451.70 771.00V866.00" fill="none" stroke="#222" stroke-width="0.82"/>
<rect x="424.55" y="771.0" width="31.30" height="95.00" fill="none" stroke="#303030" stroke-width="0.8"/>
<text transform="translate(300.80 628.42) rotate(0.05)" class="sb" font-size="12.2" text-anchor="middle" fill="#000" stroke="#000" stroke-width="0.08">+</text>
<text transform="translate(337.10 797.22) rotate(0.05)" class="sb" font-size="12.2" text-anchor="middle" fill="#000" stroke="#000" stroke-width="0.08">+</text>
<text transform="translate(353.50 798.23) rotate(0.05)" class="rb" font-size="12.8" text-anchor="start" fill="#333" stroke="#333" stroke-width="0.25">**</text>
<text transform="translate(378.70 723.90) rotate(0.05)" class="rb" font-size="11.5" text-anchor="start" fill="#000" stroke="#000" stroke-width="0.2">ns</text>
<text transform="translate(399.20 724.50) rotate(0.05)" class="rb" font-size="12.3" text-anchor="start" fill="#000" stroke="#000" stroke-width="0.2">NS</text>
<text transform="translate(426.60 766.20) rotate(0.05)" class="rb" font-size="11.5" text-anchor="start" fill="#000" stroke="#000" stroke-width="0.2">ns</text>
<text transform="translate(446.00 769.53) rotate(0.05)" class="rb" font-size="12.8" text-anchor="start" fill="#333" stroke="#333" stroke-width="0.25">*</text>
<rect x="211.3" y="3.60" width="30.60" height="5.4" fill="#fff"/>
<rect x="211.3" y="3.60" width="30.60" height="5.4" fill="none" stroke="#333" stroke-width="0.75"/>
<text transform="translate(249.4 10.70) rotate(0.05)" class="sr" font-size="12.9" fill="#111" stroke="#111" stroke-width="0.2">C</text>
<rect x="211.3" y="20.30" width="30.60" height="5.4" fill="#fff"/>
<path d="M213.80 20.30V25.70M218.10 20.30V25.70M222.40 20.30V25.70M226.70 20.30V25.70M231.00 20.30V25.70M235.30 20.30V25.70M239.60 20.30V25.70" fill="none" stroke="#333" stroke-width="0.6"/>
<rect x="211.3" y="20.30" width="30.60" height="5.4" fill="none" stroke="#333" stroke-width="0.75"/>
<text transform="translate(249.4 27.40) rotate(0.05)" class="sr" font-size="12.9" fill="#111" stroke="#111" stroke-width="0.2">S</text>
<rect x="211.3" y="36.90" width="30.60" height="5.4" fill="#fff"/>
<path d="M211.30 41.20L212.40 42.30M211.30 36.90L216.70 42.30M215.60 36.90L221.00 42.30M219.90 36.90L225.30 42.30M224.20 36.90L229.60 42.30M228.50 36.90L233.90 42.30M232.80 36.90L238.20 42.30M237.10 36.90L241.90 41.70M241.40 36.90L241.90 37.40" fill="none" stroke="#333" stroke-width="0.6"/>
<rect x="211.3" y="36.90" width="30.60" height="5.4" fill="none" stroke="#333" stroke-width="0.75"/>
<text transform="translate(249.4 44.00) rotate(0.05)" class="sr" font-size="12.9" fill="#111" stroke="#111" stroke-width="0.2">S+TQ</text>
<rect x="211.3" y="53.60" width="30.60" height="5.4" fill="#fff"/>
<path d="M215.60 53.60L211.30 57.90M219.90 53.60L214.50 59.00M224.20 53.60L218.80 59.00M228.50 53.60L223.10 59.00M232.80 53.60L227.40 59.00M237.10 53.60L231.70 59.00M241.40 53.60L236.00 59.00M241.90 57.40L240.30 59.00" fill="none" stroke="#333" stroke-width="0.6"/>
<rect x="211.3" y="53.60" width="30.60" height="5.4" fill="none" stroke="#333" stroke-width="0.75"/>
<text transform="translate(249.4 60.70) rotate(0.05)" class="sr" font-size="12.9" fill="#111" stroke="#111" stroke-width="0.2">S+LAH</text>
<rect x="211.3" y="70.20" width="30.60" height="5.4" fill="#fff"/>
<path d="M211.30 72.90H241.90M213.80 70.20V75.60M218.10 70.20V75.60M222.40 70.20V75.60M226.70 70.20V75.60M231.00 70.20V75.60M235.30 70.20V75.60M239.60 70.20V75.60" fill="none" stroke="#333" stroke-width="0.6"/>
<rect x="211.3" y="70.20" width="30.60" height="5.4" fill="none" stroke="#333" stroke-width="0.75"/>
<text transform="translate(249.4 77.30) rotate(0.05)" class="sr" font-size="12.9" fill="#111" stroke="#111" stroke-width="0.2">S+HAH</text>
<text transform="translate(14.8 495.3) rotate(-89.95)" class="rb" font-size="19.3" fill="#000" stroke="#000" stroke-width="0.2">Percentage of different types of WBC</text></svg>
</body></html>
